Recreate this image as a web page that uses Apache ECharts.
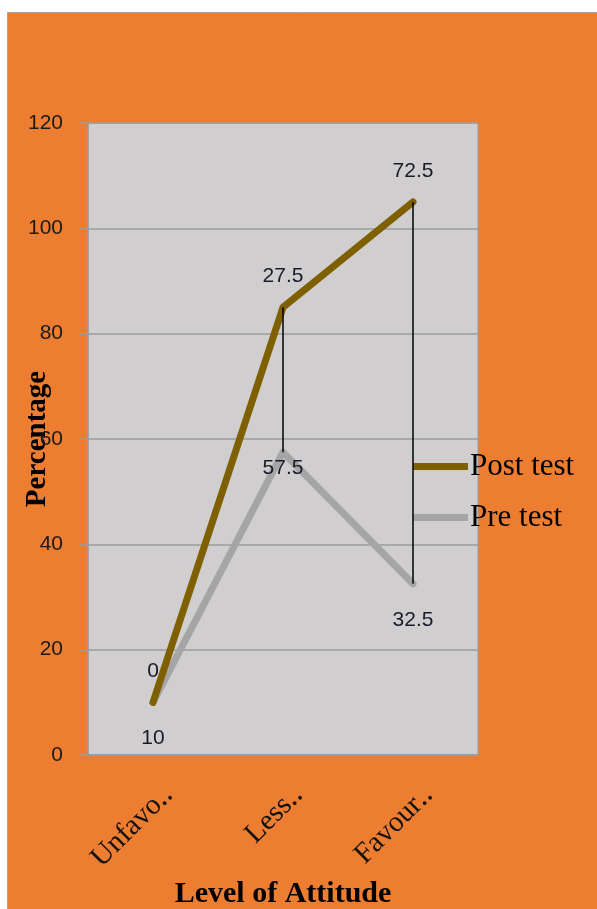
<!DOCTYPE html>
<html>
<head>
<meta charset="utf-8">
<script src="https://cdn.jsdelivr.net/npm/echarts@6/dist/echarts.min.js"></script>
<style>
  html, body { margin: 0; padding: 0; background: #ffffff; }
  #chart { width: 597px; height: 909px; }
</style>
</head>
<body>
<div id="chart"></div>
<script>
// Attitude levels before and after the intervention (percent)
const categories = ['Unfavo\u2025', 'Less\u2025', 'Favour\u2025'];
const preTest = [10, 57.5, 32.5];
const postTest = [0, 27.5, 72.5];
const yTicks = { min: 0, max: 120, interval: 20 };

const serif = 'Liberation Serif, Times New Roman, serif';
const sans = 'Liberation Sans, Arial, sans-serif';

// high-low lines joining the two series at each category
const dropLines = categories.map((c, i) => [i, preTest[i], preTest[i] + postTest[i]]);

const chart = echarts.init(document.getElementById('chart'), null, { renderer: 'canvas' });

chart.setOption({
  animation: false,
  backgroundColor: '#ffffff',
  graphic: [{
    type: 'rect',
    z: -10,
    silent: true,
    shape: { x: 7.5, y: 12.5, width: 620, height: 930 },
    style: { fill: '#ED7D31', stroke: '#a6a6a6', lineWidth: 1 }
  }],
  grid: {
    left: 88, top: 123, width: 390, height: 632,
    show: true,
    backgroundColor: '#D0CECE',
    borderColor: '#9c9c9c',
    borderWidth: 1,
    containLabel: false,
    outerBoundsMode: 'none'
  },
  legend: {
    orient: 'vertical',
    left: 413,
    top: 451,
    padding: 0,
    itemGap: 20,
    itemWidth: 55,
    itemHeight: 7,
    icon: 'rect',
    data: ['Post test', 'Pre test'],
    textStyle: { fontFamily: serif, fontSize: 31, color: '#000000', padding: [0, 0, 0, -3] }
  },
  xAxis: {
    type: 'category',
    data: categories,
    boundaryGap: true,
    name: 'Level of Attitude',
    nameLocation: 'middle',
    nameGap: 124,
    nameMoveOverlap: false,
    nameTextStyle: { fontFamily: serif, fontSize: 30, fontWeight: 'bold', color: '#000000' },
    axisLine: { show: true, lineStyle: { color: '#9c9c9c', width: 1.5 } },
    axisTick: { show: false },
    axisLabel: {
      rotate: 45,
      interval: 0,
      margin: 19,
      verticalAlign: 'top',
      padding: [8, 0, 0, 0],
      fontFamily: serif,
      fontSize: 29,
      color: '#111111'
    }
  },
  yAxis: {
    type: 'value',
    min: yTicks.min,
    max: yTicks.max,
    interval: yTicks.interval,
    name: 'Percentage',
    nameLocation: 'middle',
    nameGap: 36,
    nameMoveOverlap: false,
    nameTextStyle: { fontFamily: serif, fontSize: 29, fontWeight: 'bold', color: '#000000' },
    axisLine: { show: true, lineStyle: { color: '#9c9c9c', width: 1.5 } },
    axisTick: { show: true, length: 8, lineStyle: { color: '#9c9c9c', width: 1.5 } },
    axisLabel: { margin: 25, fontFamily: sans, fontSize: 21, color: '#1a1a1a' },
    splitLine: { show: true, lineStyle: { color: '#9c9c9c', width: 1.5 } }
  },
  series: [
    {
      name: 'Pre test',
      type: 'line',
      stack: 'attitude',
      z: 2,
      data: preTest.map((v, i) => ({
        value: v,
        // the middle label sits close under its peak
        label: { distance: i === 1 ? 5 : 25 }
      })),
      symbol: 'circle',
      symbolSize: 1,
      color: '#A5A5A5',
      lineStyle: { color: '#A5A5A5', width: 7, cap: 'round', join: 'round' },
      label: {
        show: true,
        position: 'bottom',
        fontFamily: sans,
        fontSize: 21,
        color: '#1a1a2a'
      }
    },
    {
      name: 'Post test',
      type: 'line',
      stack: 'attitude',
      z: 3,
      data: postTest,
      symbol: 'circle',
      symbolSize: 1,
      color: '#7F6000',
      lineStyle: { color: '#7F6000', width: 7, cap: 'round', join: 'round' },
      label: {
        show: true,
        position: 'top',
        distance: 20,
        fontFamily: sans,
        fontSize: 21,
        color: '#1a1a2a'
      }
    },
    {
      name: 'drop',
      type: 'custom',
      z: 4,
      silent: true,
      data: dropLines,
      encode: { x: 0, y: [1, 2] },
      renderItem: function (params, api) {
        const p1 = api.coord([api.value(0), api.value(1)]);
        const p2 = api.coord([api.value(0), api.value(2)]);
        return {
          type: 'line',
          shape: { x1: p1[0], y1: p1[1], x2: p2[0], y2: p2[1] },
          style: { stroke: '#000000', lineWidth: 1.5 }
        };
      }
    }
  ]
});
</script>
</body>
</html>
